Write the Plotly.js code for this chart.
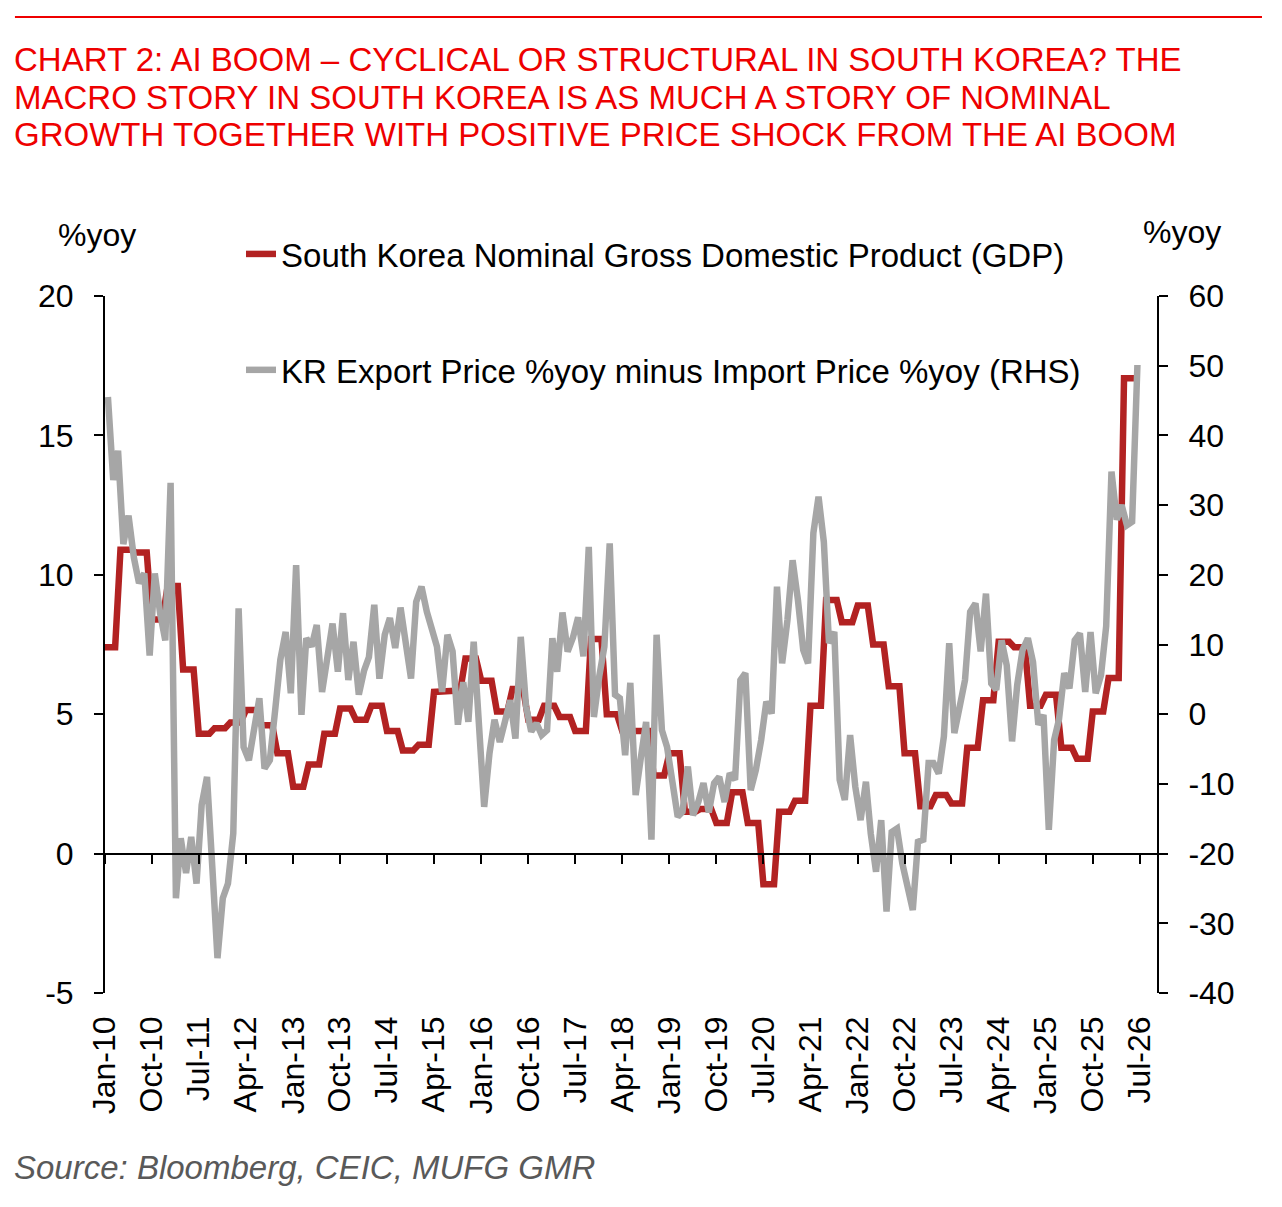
<!DOCTYPE html>
<html>
<head>
<meta charset="utf-8">
<script src="https://cdn.plot.ly/plotly-3.0.1.min.js"></script>
<style>
  body { margin: 0; background: #fff; }
  #plotly { width: 1282px; height: 1207px; }
</style>
</head>
<body>
<div id="plotly"></div>
<script>
// South Korea nominal GDP %yoy, quarterly (2010Q1 .. 2026Q2), drawn monthly as steps
var gdpQuarterly = [
  7.4, 10.9, 10.8, 8.4,
  9.6, 6.6, 4.3, 4.5,
  4.7, 5.15, 4.6, 3.6,
  2.4, 3.2, 4.3, 5.2,
  4.8, 5.3, 4.4, 3.7,
  3.9, 5.8, 5.85, 7.0,
  6.2, 5.1, 5.9, 4.8,
  5.3, 4.9, 4.4, 7.7,
  5.0, 4.4, 4.4, 2.8,
  3.6, 1.5, 1.6, 1.1,
  2.2, 1.1, -1.1, 1.5,
  1.9, 5.3, 9.1, 8.3,
  8.9, 7.5, 6.0, 3.6,
  1.7, 2.1, 1.8, 3.8,
  5.5, 7.6, 7.4, 5.3,
  5.7, 3.8, 3.4, 5.1,
  6.3, 17.05
];

// KR export price %yoy minus import price %yoy, monthly (Jan-10 .. Jun-26)
var priceGap = [
  45.5, 33.6, 37.8, 24.4, 28.5, 22.5, 18.8, 20.2, 8.4, 20.2, 14.5, 10.6,
  33.2, -26.4, -17.8, -22.8, -17.6, -24.3, -13, -9, -22, -35, -26.4, -24.3,
  -17.1, 15.2, -4.7, -6.6, -2.2, 2.3, -7.8, -6.6, 0.6, 7.8, 11.8, 3,
  21.4, -0.1, 10.9, 9.7, 12.8, 3.2, 8, 13, 6.1, 14.5, 4.9, 10.4,
  2.8, 6.3, 8.2, 15.7, 5.1, 11.4, 13.8, 9.5, 15.3, 10.2, 5.1, 16.1,
  18.3, 14.7, 12.6, 9.7, 3.2, 11.4, 9, -1.5, 4.6, -1.1, 10.4, -1.5,
  -13.3, -5.6, -0.8, -4, -1, 2, -3.5, 11.1, 1.1, -2.5, -1.3, -3,
  -2.3, 10.9, 6.1, 14.6, 9, 11, 13.9, 8.3, 24, -0.4, 5.4, 9.7,
  24.5, 2.8, 2.3, -5.9, 4.5, -11.6, -6.3, -1.1, -18, 11.4, -2.3, -4.7,
  -9.7, -14.7, -14, -7.5, -14.5, -12.6, -9.9, -14.1, -9.9, -9, -12.6, -8.5,
  -9.4, 4.9, 5.9, -10.9, -8, -3.7, 1.8, 0.1, 18.3, 7.3, 13.5, 22.1,
  16.4, 9.2, 7.3, 26, 31.2, 24.7, 10.2, 11.8, -9.4, -12.3, -3, -10.4,
  -15.2, -9.7, -17.1, -22.6, -15.2, -28.3, -16.9, -16.4, -21.4, -25, -28.1, -18.3,
  -18, -7, -7, -8.5, -3.2, 10.2, -2.7, 1.1, 4.9, 14.7, 15.9, 9,
  17.3, 4.4, 3.5, 10.6, 7, -3.9, 4.2, 9.2, 10.9, 7.5, -1.5, -0.1,
  -16.6, -3.7, -0.8, 5.9, 3.7, 10.6, 11.6, 3.2, 11.8, 3, 5.6, 12.6,
  34.8, 27.9, 30, 27.1, 27.6, 50.1
];

// axis ticks (hyphen minus as in the source chart)
var leftTicks = [-5, 0, 5, 10, 15, 20];
var leftTickText = ['-5', '0', '5', '10', '15', '20'];
var rightTicks = [-40, -30, -20, -10, 0, 10, 20, 30, 40, 50, 60];
var rightTickText = ['-40', '-30', '-20', '-10', '0', '10', '20', '30', '40', '50', '60'];

var gdpName = 'South Korea Nominal Gross Domestic Product (GDP)';
var gapName = 'KR Export Price %yoy minus Import Price %yoy (RHS)';
var titleLines = [
  'CHART 2: AI BOOM \u2013 CYCLICAL OR STRUCTURAL IN SOUTH KOREA? THE',
  'MACRO STORY IN SOUTH KOREA IS AS MUCH A STORY OF NOMINAL',
  'GROWTH TOGETHER WITH POSITIVE PRICE SHOCK FROM THE AI BOOM'
];
var sourceText = 'Source: Bloomberg, CEIC, MUFG GMR';

function monthDate(i, day) {
  var y = 2010 + Math.floor(i / 12);
  var m = (i % 12) + 1;
  return y + '-' + (m < 10 ? '0' + m : m) + '-' + day;
}

function plotChart() {
  var gdpX = [], gdpY = [];
  for (var q = 0; q < gdpQuarterly.length; q++) {
    for (var j = 0; j < 3; j++) {
      gdpX.push(monthDate(q * 3 + j, '01'));
      gdpY.push(gdpQuarterly[q]);
    }
  }
  var gapX = [];
  for (var i = 0; i < priceGap.length; i++) gapX.push(monthDate(i, '18'));

  var font = 'Liberation Sans, Arial, sans-serif';
  var red = '#EE0000';
  var xRange = ['2010-01-01', '2026-10-10'];

  var traces = [
    { x: gdpX, y: gdpY, mode: 'lines', name: gdpName,
      line: {color: '#B22222', width: 6.5}, xaxis: 'x', yaxis: 'y', legend: 'legend' },
    { x: gapX, y: priceGap, mode: 'lines', name: gapName,
      line: {color: '#A6A6A6', width: 6.5}, xaxis: 'x2', yaxis: 'y2', legend: 'legend2' }
  ];

  var tickFont = {family: font, size: 32, color: '#000'};
  var annotations = [];
  var titleY = [1.3400, 1.2855, 1.2310];
  for (var t = 0; t < titleLines.length; t++) {
    annotations.push({ text: titleLines[t], xref: 'paper', yref: 'paper',
      x: -0.0885, y: titleY[t], xanchor: 'left', yanchor: 'middle', showarrow: false,
      font: {family: font, size: 33, color: red} });
  }
  annotations.push({ text: '%yoy', xref: 'paper', yref: 'paper', x: -0.0076, y: 1.0875,
    xanchor: 'center', yanchor: 'middle', showarrow: false, font: {family: font, size: 32, color: '#000'} });
  annotations.push({ text: '%yoy', xref: 'paper', yref: 'paper', x: 1.0238, y: 1.0918,
    xanchor: 'center', yanchor: 'middle', showarrow: false, font: {family: font, size: 32, color: '#000'} });
  annotations.push({ text: sourceText, xref: 'paper', yref: 'paper', x: -0.0885, y: -0.251,
    xanchor: 'left', yanchor: 'middle', showarrow: false,
    font: {family: font, size: 33, color: '#595959', style: 'italic'} });

  var layout = {
    width: 1282, height: 1207,
    margin: {l: 105, r: 125, t: 296, b: 214},
    paper_bgcolor: '#fff', plot_bgcolor: '#fff',
    font: {family: font, size: 32, color: '#000'},
    xaxis: { type: 'date', range: xRange, tick0: '2010-01-01', dtick: 'M9',
      tickformat: '%b-%y', tickangle: -90, ticks: '', ticklabelstandoff: 16,
      showline: false, showgrid: false, zeroline: false, tickfont: tickFont, fixedrange: true },
    xaxis2: { type: 'date', range: xRange, tick0: '2010-01-01', dtick: 'M9',
      overlaying: 'x', anchor: 'free', position: 0.2, showticklabels: false,
      ticks: 'outside', ticklen: 9, tickwidth: 2, tickcolor: '#000',
      showline: true, linecolor: '#000', linewidth: 2, showgrid: false, zeroline: false },
    yaxis: { range: [-5, 20], tickmode: 'array', tickvals: leftTicks, ticktext: leftTickText,
      ticks: 'outside', ticklen: 9, tickwidth: 2,
      tickcolor: '#000', showline: true, linecolor: '#000', linewidth: 2,
      showgrid: false, zeroline: false, tickfont: tickFont, ticklabelstandoff: 14 },
    yaxis2: { range: [-40, 60], tickmode: 'array', tickvals: rightTicks, ticktext: rightTickText,
      overlaying: 'y', side: 'right', anchor: 'x2',
      ticks: 'outside', ticklen: 9, tickwidth: 2, tickcolor: '#000',
      showline: true, linecolor: '#000', linewidth: 2,
      showgrid: false, zeroline: false, tickfont: tickFont, ticklabelstandoff: 14 },
    showlegend: true,
    legend: { x: 0.1293, y: 1.0603, xanchor: 'left', yanchor: 'middle',
      bgcolor: 'rgba(0,0,0,0)', font: {family: font, size: 33, color: '#000'} },
    legend2: { x: 0.1293, y: 0.894, xanchor: 'left', yanchor: 'middle',
      bgcolor: 'rgba(0,0,0,0)', font: {family: font, size: 33, color: '#000'} },
    annotations: annotations,
    shapes: [{ type: 'line', xref: 'paper', yref: 'paper', x0: -0.0856, x1: 1.0998,
      y0: 1.4003, y1: 1.4003, line: {color: red, width: 2} }]
  };

  Plotly.newPlot('plotly', traces, layout, {displayModeBar: false, staticPlot: true});
}

plotChart();
</script>
</body>
</html>
